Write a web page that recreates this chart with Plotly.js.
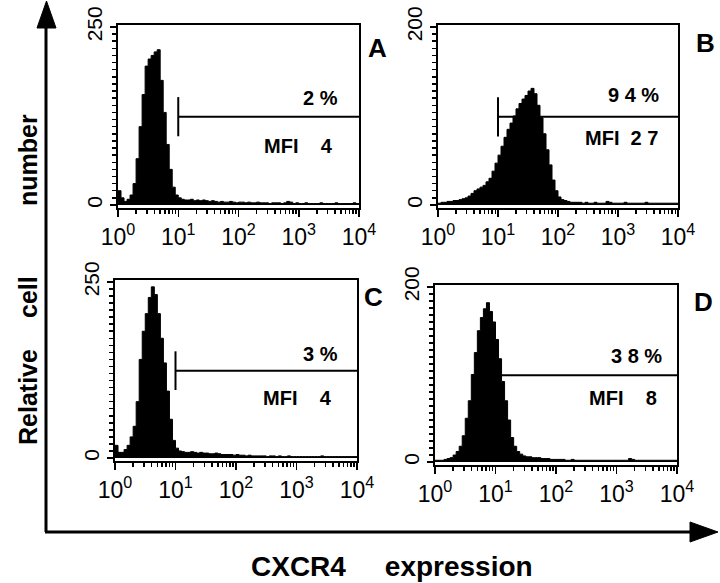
<!DOCTYPE html>
<html>
<head>
<meta charset="utf-8">
<script src="https://cdn.plot.ly/plotly-3.0.1.min.js"></script>
<style>
  body { margin: 0; background: #fff; }
  #grafico { width: 720px; height: 583px; }
</style>
</head>
<body>
<div id="grafico"></div>
<script>
// channel positions, in decades (log10 of fluorescence), 0.05 decade per bin
const logEdges = [
  0.00,0.05,0.10,0.15,0.20,0.25,0.30,0.35,0.40,0.45,0.50,0.55,0.60,0.65,0.70,0.75,0.80,0.85,0.90,0.95,
  1.00,1.05,1.10,1.15,1.20,1.25,1.30,1.35,1.40,1.45,1.50,1.55,1.60,1.65,1.70,1.75,1.80,1.85,1.90,1.95,
  2.00,2.05,2.10,2.15,2.20,2.25,2.30,2.35,2.40,2.45,2.50,2.55,2.60,2.65,2.70,2.75,2.80,2.85,2.90,2.95,
  3.00,3.05,3.10,3.15,3.20,3.25,3.30,3.35,3.40,3.45,3.50,3.55,3.60,3.65,3.70,3.75,3.80,3.85,3.90,3.95,
  4.00
];

// cell counts per channel for each panel
const countsA = [
  20,10,5,8,14,30,65,110,155,195,205,210,215,218,175,130,85,50,25,14,
  10,8,7,7,8,6,7,6,7,6,5,6,5,4,5,4,4,5,4,3,
  4,4,3,4,3,3,4,3,3,3,2,3,3,3,2,3,5,4,2,3,
  2,2,3,2,2,2,2,3,2,2,2,2,3,2,2,2,2,2,3,2
];
const countsB = [
  2,3,3,4,4,5,5,6,7,8,10,13,16,18,20,22,26,30,38,47,
  56,66,76,85,92,100,108,114,119,123,128,131,125,112,98,80,62,45,28,16,
  9,6,5,4,3,3,3,3,2,3,2,2,3,2,2,2,4,3,2,2,
  2,2,3,2,2,2,2,2,2,3,2,2,2,2,2,2,2,2,2,2
];
const countsC = [
  18,8,8,12,18,30,45,80,140,180,205,228,243,232,205,170,135,95,55,25,
  14,10,9,8,8,9,8,7,8,7,7,6,6,7,6,5,5,5,5,4,
  5,4,4,3,4,3,3,3,3,3,2,3,3,2,3,2,2,3,2,2,
  2,2,2,2,2,2,2,2,3,2,2,2,2,2,2,2,2,2,2,2
];
const countsD = [
  2,2,2,3,4,5,8,12,18,30,50,70,100,125,150,165,175,182,172,160,
  140,118,92,70,48,28,18,12,9,7,6,6,5,5,5,4,4,4,3,3,
  3,3,3,2,2,3,2,2,2,2,2,2,2,2,2,2,2,2,2,2,
  2,2,2,2,4,3,2,2,2,2,2,2,2,2,2,2,2,2,2,2
];

const panelNames = ['A', 'B', 'C', 'D'];
const yMax = [250, 200, 250, 200];
const gateStart = [10, 10, 10, 10];
const gateEnd = [10000, 10000, 10000, 10000];
const gateLevel = [124, 99, 124, 99];
const pctText = ['2 %', '9 4 %', '3 %', '3 8 %'];
const mfiText = ['MFI    4', 'MFI  2 7', 'MFI    4', 'MFI    8'];
const decadeTicks = [1, 10, 100, 1000, 10000];
const decadeLabels = ['10<sup>0</sup>', '10<sup>1</sup>', '10<sup>2</sup>', '10<sup>3</sup>', '10<sup>4</sup>'];

const allCounts = [countsA, countsB, countsC, countsD];

// pixel -> paper helpers
const W = 720, H = 583;
const px = x => x / W;
const py = y => 1 - y / H;

// plot boxes in pixels [left, right, top, bottom]
const boxes = [
  [118, 359, 25, 208],
  [438, 678, 25, 208],
  [115, 357, 280, 461],
  [435, 677, 285, 465]
];
const pctPos = [[340, 98], [661, 95], [340, 354], [664, 356]];
const mfiPos = [[335, 146], [660, 138], [334, 398], [659, 398]];
const letterPos = [[377, 48], [705, 43], [373, 297], [703, 302]];

const tickFont = { family: 'Liberation Sans Narrow, Liberation Sans, Arial, sans-serif', size: 23, color: '#000' };
const boldFont = { family: 'Liberation Sans, Arial, sans-serif', size: 20, color: '#000', weight: 'bold' };

let minorX = [];
decadeTicks.slice(0, 4).forEach(d => { for (let k = 2; k <= 9; k++) minorX.push(d * k); });

let data = [];
let layout = {
  width: W, height: H,
  margin: { l: 0, r: 0, t: 0, b: 0 },
  paper_bgcolor: '#fff', plot_bgcolor: '#fff',
  showlegend: false,
  annotations: [],
  shapes: []
};

allCounts.forEach((counts, i) => {
  let n = i + 1;
  let xa = 'x' + (n === 1 ? '' : n), ya = 'y' + (n === 1 ? '' : n);
  let xs = logEdges.map(v => Math.pow(10, v));
  let ys = counts.concat([counts[counts.length - 1]]);

  data.push({
    type: 'scatter', mode: 'lines', x: xs, y: ys,
    line: { shape: 'hv', color: '#000', width: 1 },
    fill: 'tozeroy', fillcolor: '#000',
    xaxis: xa, yaxis: ya, hoverinfo: 'skip'
  });

  // gate marker
  let half = yMax[i] * 0.11;
  data.push({
    type: 'scatter', mode: 'lines',
    x: [gateStart[i], gateStart[i], null, gateStart[i], gateEnd[i]],
    y: [gateLevel[i] - half, gateLevel[i] + half, null, gateLevel[i], gateLevel[i]],
    line: { color: '#000', width: 2 },
    xaxis: xa, yaxis: ya, hoverinfo: 'skip'
  });

  let b = boxes[i];
  let xKey = 'xaxis' + (n === 1 ? '' : n), yKey = 'yaxis' + (n === 1 ? '' : n);
  layout[xKey] = {
    type: 'log', range: [0, 4],
    domain: [px(b[0]), px(b[1])],
    anchor: ya,
    showgrid: false, zeroline: false,
    showline: true, mirror: true, linecolor: '#000', linewidth: 2,
    tickmode: 'array', tickvals: decadeTicks, ticktext: decadeLabels,
    ticks: 'outside', ticklen: 7, tickwidth: 1.5, tickcolor: '#000',
    tickfont: tickFont,
    minor: { tickmode: 'array', tickvals: minorX, ticks: 'outside', ticklen: 4, tickwidth: 1.5, tickcolor: '#000', showgrid: false }
  };
  layout[yKey] = {
    range: [-yMax[i] * 0.017, yMax[i] * 1.011],
    domain: [py(b[3]), py(b[2])],
    anchor: xa,
    showgrid: false, zeroline: false,
    showline: true, mirror: true, linecolor: '#000', linewidth: 2,
    tickmode: 'array', tickvals: [0, yMax[i]], ticktext: ['0', String(yMax[i])],
    tickangle: -90,
    ticks: 'outside', ticklen: 6, tickwidth: 1.5, tickcolor: '#000',
    tickfont: { family: tickFont.family, size: 21, color: '#000' },
    minor: { dtick: yMax[i] === 250 ? 10 : 8, tick0: 0, ticks: 'outside', ticklen: 4, tickwidth: 1.5, tickcolor: '#000', showgrid: false }
  };

  layout.annotations.push(
    { text: pctText[i].replace(/ /g, '\u00a0'), x: px(pctPos[i][0]), y: py(pctPos[i][1]), xref: 'paper', yref: 'paper',
      xanchor: 'right', yanchor: 'middle', showarrow: false, font: boldFont },
    { text: mfiText[i].replace(/ /g, '\u00a0'), x: px(mfiPos[i][0]), y: py(mfiPos[i][1]), xref: 'paper', yref: 'paper',
      xanchor: 'right', yanchor: 'middle', showarrow: false, font: boldFont },
    { text: panelNames[i], x: px(letterPos[i][0]), y: py(letterPos[i][1]), xref: 'paper', yref: 'paper',
      xanchor: 'center', yanchor: 'middle', showarrow: false,
      font: { family: boldFont.family, size: 26, color: '#000', weight: 'bold' } }
  );
});

// overall axis arrows
layout.shapes.push(
  { type: 'line', xref: 'paper', yref: 'paper', x0: px(46), y0: py(532), x1: px(46), y1: py(26), line: { color: '#000', width: 3 } },
  { type: 'line', xref: 'paper', yref: 'paper', x0: px(45), y0: py(532), x1: px(692), y1: py(532), line: { color: '#000', width: 3 } },
  { type: 'path', xref: 'paper', yref: 'paper', fillcolor: '#000', line: { color: '#000', width: 1 },
    path: 'M ' + px(37) + ' ' + py(28) + ' L ' + px(56) + ' ' + py(28) + ' L ' + px(46.5) + ' ' + py(1) + ' Z' },
  { type: 'path', xref: 'paper', yref: 'paper', fillcolor: '#000', line: { color: '#000', width: 1 },
    path: 'M ' + px(690) + ' ' + py(522) + ' L ' + px(690) + ' ' + py(542) + ' L ' + px(718) + ' ' + py(532) + ' Z' }
);

// overall titles
const bigFont = { family: 'Liberation Sans, Arial, sans-serif', size: 25, color: '#000', weight: 'bold' };
const vTitle = (text, y) => ({ text: text, x: px(28), y: py(y), xref: 'paper', yref: 'paper', textangle: -90,
  xanchor: 'center', yanchor: 'middle', showarrow: false, font: bigFont });
layout.annotations.push(
  vTitle('Relative', 397),
  vTitle('cell', 297),
  vTitle('number', 160),
  { text: 'CXCR4\u00a0\u00a0\u00a0\u00a0\u00a0expression', x: px(392), y: py(566), xref: 'paper', yref: 'paper',
    xanchor: 'center', yanchor: 'middle', showarrow: false,
    font: { family: bigFont.family, size: 28, color: '#000', weight: 'bold' } }
);

let config = { staticPlot: true };

Plotly.newPlot('grafico', data, layout, config);
</script>
</body>
</html>
